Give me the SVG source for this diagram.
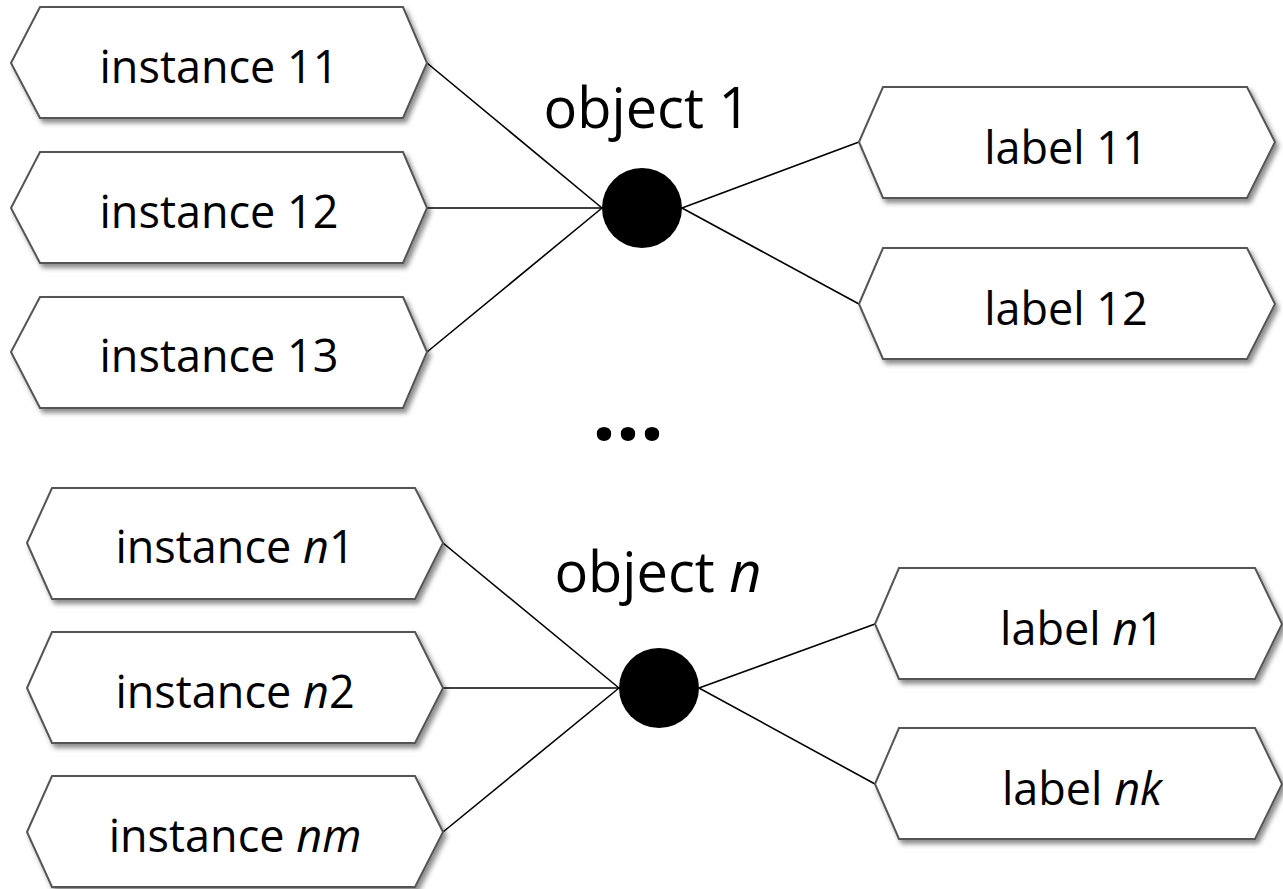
<svg xmlns="http://www.w3.org/2000/svg" width="1283" height="889" viewBox="0 0 1283 889">
<defs>
<filter id="sh" x="-10%" y="-20%" width="130%" height="150%">
<feDropShadow dx="3" dy="4" stdDeviation="2.5" flood-color="#000" flood-opacity="0.45"/>
</filter>
</defs>
<style>
.hex{fill:#fff;stroke:#555;stroke-width:2;filter:url(#sh)}
.t{font-family:"Open Sans","Liberation Sans",sans-serif;font-size:45px;fill:#000;text-anchor:middle}
.o{font-family:"Open Sans","Liberation Sans",sans-serif;font-size:56px;fill:#000;text-anchor:middle}
.c{stroke:#000;stroke-width:1.6;fill:none}
</style>
<g id="connectors">
<line class="c" x1="427" y1="63" x2="602" y2="208"/>
<line class="c" x1="427" y1="208" x2="602" y2="208"/>
<line class="c" x1="427" y1="352" x2="602" y2="208"/>
<line class="c" x1="682" y1="208" x2="859" y2="142"/>
<line class="c" x1="682" y1="208" x2="859" y2="304"/>
<line class="c" x1="443" y1="543" x2="619" y2="688"/>
<line class="c" x1="443" y1="688" x2="619" y2="688"/>
<line class="c" x1="443" y1="832" x2="619" y2="688"/>
<line class="c" x1="699" y1="688" x2="875" y2="624"/>
<line class="c" x1="699" y1="688" x2="875" y2="784"/>
</g>
<g id="instance11"><polygon class="hex" points="11,63 40,7 403,7 427,63 403,118 40,118"/><text class="t" x="219" y="83">instance 11</text></g>
<g id="instance12"><polygon class="hex" points="11,208 40,152 403,152 427,208 403,263 40,263"/><text class="t" x="219" y="228">instance 12</text></g>
<g id="instance13"><polygon class="hex" points="11,352 40,297 403,297 427,352 403,408 40,408"/><text class="t" x="219" y="372">instance 13</text></g>
<g id="label11"><polygon class="hex" points="859,142 883,87 1247,87 1275,142 1247,198 883,198"/><text class="t" x="1066" y="164">label 11</text></g>
<g id="label12"><polygon class="hex" points="859,304 883,248 1247,248 1275,304 1247,359 883,359"/><text class="t" x="1066" y="325">label 12</text></g>
<g id="object1"><circle cx="642" cy="208" r="40" fill="#000"/><text class="o" x="647" y="128">object 1</text></g>
<g id="dots"><text x="628" y="440" font-family="Open Sans,Liberation Sans,sans-serif" font-size="84" font-weight="bold" text-anchor="middle">...</text></g>
<g id="instancen1"><polygon class="hex" points="27,543 52,488 415,488 443,543 415,599 52,599 "/><text class="t" x="235" y="563">instance <tspan font-style="italic">n</tspan>1</text></g>
<g id="instancen2"><polygon class="hex" points="27,688 52,632 415,632 443,688 415,743 52,743"/><text class="t" x="235" y="708">instance <tspan font-style="italic">n</tspan>2</text></g>
<g id="instancenm"><polygon class="hex" points="27,832 52,776 415,776 443,832 415,887 52,887"/><text class="t" x="235" y="852">instance <tspan font-style="italic">nm</tspan></text></g>
<g id="labeln1"><polygon class="hex" points="875,624 899,568 1255,568 1282,624 1255,679 899,679"/><text class="t" x="1082" y="645">label <tspan font-style="italic">n</tspan>1</text></g>
<g id="labelnk"><polygon class="hex" points="875,784 899,728 1255,728 1282,784 1255,839 899,839"/><text class="t" x="1082" y="805">label <tspan font-style="italic">nk</tspan></text></g>
<g id="objectn"><circle cx="659" cy="688" r="40" fill="#000"/><text class="o" x="658" y="592">object <tspan font-style="italic">n</tspan></text></g>
</svg>
